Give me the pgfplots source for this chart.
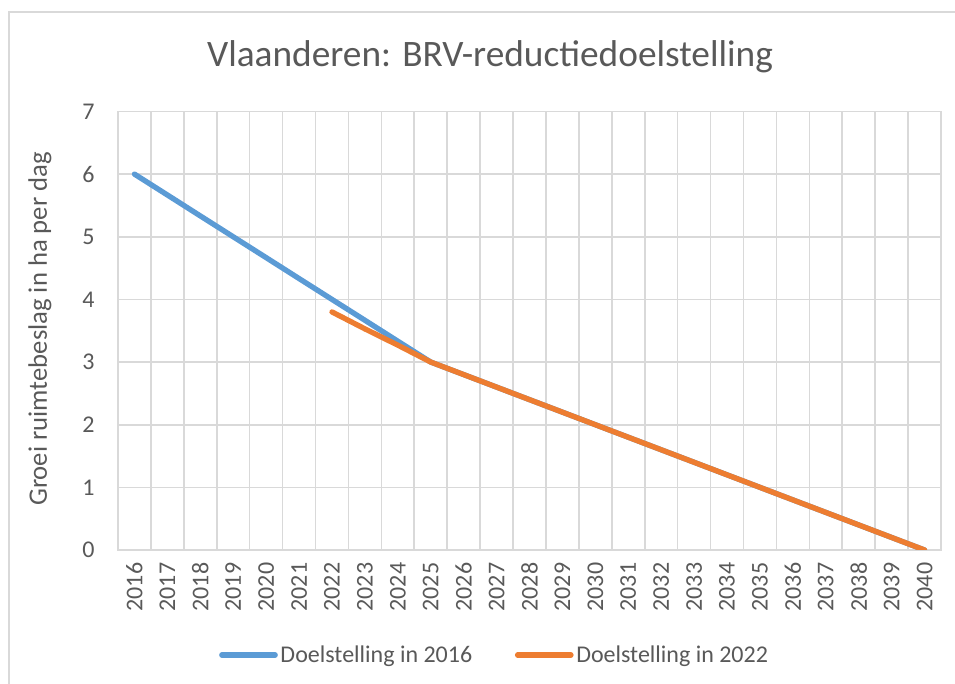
\documentclass[border=0pt]{standalone}
\usepackage{pgfplots}
\pgfplotsset{compat=1.18}
\usepackage{fontspec}
\setmainfont{Carlito}
\definecolor{txt}{RGB}{89,89,89}
\definecolor{grd}{RGB}{217,217,217}
\definecolor{blu}{RGB}{91,155,213}
\definecolor{ora}{RGB}{237,125,49}

\begin{document}
\begin{tikzpicture}[x=0.75pt,y=0.75pt]
\useasboundingbox (0,0) rectangle (955,684);
\draw[grd,line width=1pt] (9,0) -- (9,672) -- (955,672);
\node[txt,font=\fontsize{28}{32}\selectfont] at (490,627) {Vlaanderen: BRV-reductiedoelstelling};
\node[txt,font=\fontsize{20}{24}\selectfont,rotate=90] at (40,355) {Groei ruimtebeslag in ha per dag};
\begin{axis}[
    at={(88.5pt,100.5pt)}, anchor=south west,
    scale only axis,
    width=617.25pt, height=328.9pt,
    xmin=-0.5, xmax=24.5, ymin=0, ymax=7,
    xtick={0,...,24},
    xticklabels={2016,2017,2018,2019,2020,2021,2022,2023,2024,2025,2026,2027,2028,2029,2030,2031,2032,2033,2034,2035,2036,2037,2038,2039,2040},
    minor xtick={-0.5,0.5,...,24.5},
    ytick={0,...,7},
    xminorgrids, ymajorgrids,
    grid style={grd,line width=1.2pt},
    minor grid style={grd,line width=1.2pt},
    axis line style={grd,line width=1.2pt},
    major tick length=0pt, minor tick length=0pt,
    /pgf/number format/assume math mode=true,
    tick label style={txt,font=\fontsize{18}{21}\selectfont},
    xticklabel style={rotate=90,anchor=east,xshift=-6pt},
    yticklabel style={xshift=-14pt},
    legend style={at={(0.458,-0.2395)},anchor=center,draw=none,legend columns=2,
        font=\fontsize{18}{21}\selectfont,text=txt,
        /tikz/every even column/.append style={column sep=30pt}},
    legend image code/.code={\draw[#1,line cap=round] (0pt,0pt) -- (40pt,0pt);},
]
\addplot[blu,line width=4pt,line cap=round,line join=round] coordinates {
(0,6) (1,5.667) (2,5.333) (3,5) (4,4.667) (5,4.333) (6,4) (7,3.667) (8,3.333) (9,3)
(10,2.8) (11,2.6) (12,2.4) (13,2.2) (14,2.0) (15,1.8) (16,1.6) (17,1.4) (18,1.2) (19,1.0)
(20,0.8) (21,0.6) (22,0.4) (23,0.2) (24,0)};
\addplot[ora,line width=4pt,line cap=round,line join=round] coordinates {
(6,3.8) (7,3.53) (8,3.27) (9,3)
(10,2.8) (11,2.6) (12,2.4) (13,2.2) (14,2.0) (15,1.8) (16,1.6) (17,1.4) (18,1.2) (19,1.0)
(20,0.8) (21,0.6) (22,0.4) (23,0.2) (24,0)};
\legend{Doelstelling in 2016, Doelstelling in 2022}
\end{axis}
\end{tikzpicture}
\end{document}
